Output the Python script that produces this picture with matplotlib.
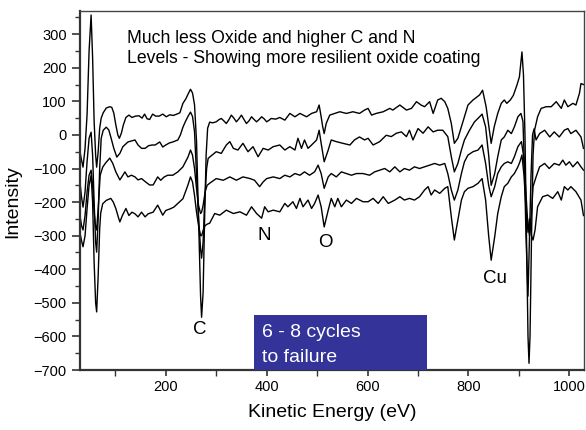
import matplotlib
matplotlib.use("Agg")
import matplotlib.pyplot as plt
from matplotlib.ticker import MultipleLocator

plt.rcParams['font.family'] = ['Liberation Sans', 'DejaVu Sans']

# ---- data (kinetic energy in eV, intensity) ----
e1 = [30, 33, 36, 40, 44, 48, 52, 55, 58, 61, 63, 66, 69, 72, 76, 82, 89, 93, 97, 101, 105, 108, 112, 116, 121,
      127, 133, 140, 147, 153, 158, 163, 168, 174, 180, 187, 194, 201, 208, 215, 222, 228, 234, 240, 245, 249,
      253, 257, 261, 265, 269, 271, 274, 277, 280, 283, 287, 293, 300, 305, 310, 315, 320, 325, 330, 335, 340,
      345, 350, 355, 360, 365, 370, 375, 380, 385, 390, 395, 400, 405, 409, 418, 426, 436, 446, 456, 466, 479,
      489, 499, 504, 508, 511, 514, 518, 525, 535, 545, 558, 571, 584, 594, 601, 608, 617, 631, 644, 650, 664,
      677, 687, 697, 706, 713, 723, 730, 739, 746, 753, 759, 766, 772, 779, 786, 792, 799, 809, 822, 828, 835,
      840, 845, 851, 858, 865, 871, 876, 883, 889, 896, 901, 906, 909, 912, 915, 918, 920, 922, 925, 928, 931,
      937, 944, 954, 964, 974, 984, 990, 997, 1007, 1013, 1020, 1023, 1028]
i1 = [-50, -75, -96, -40, 60, 250, 357, 230, 40, -60, -96, -50, 20, 50, 66, 80, 84, 82, 65, 30, 0, -10, 5, 30, 52,
      59, 52, 56, 57, 50, 62, 48, 46, 62, 56, 56, 62, 54, 60, 58, 62, 66, 94, 108, 124, 136,
      125, 90, -20, -250, -480, -543, -470, -250, -60, 20, 38, 36, 39, 45, 49, 42, 34, 45, 59, 50, 39,
      48, 59, 46, 34, 42, 54, 46, 39, 46, 54, 48, 39, 44, 49, 47, 52, 44, 64, 54, 64, 54,
      64, 69, 89, 54, 25, 4, 34, 59, 64, 69, 64, 69, 64, 74, 79, 59, 64, 69, 79, 74, 89,
      74, 79, 99, 89, 84, 99, 64, 104, 109, 99, 79, 34, -25, -10, 24, 54, 89, 104, 119, 133, 84,
      30, -25, 24, 64, 94, 104, 94, 104, 118, 148, 173, 247, 180, 0, -300, -600, -680, -600, -300, -60, 14,
      54, 79, 84, 84, 99, 79, 104, 84, 94, 89, 124, 153, 150]

e2 = [30, 33, 36, 40, 44, 48, 52, 55, 58, 61, 63, 66, 69, 72, 76, 82, 87, 91, 97, 103, 109, 115, 125, 132, 139,
      145, 152, 159, 166, 173, 179, 188, 194, 200, 207, 214, 224, 229, 234, 239, 244, 249, 253, 257, 261, 265,
      269, 271, 274, 277, 281, 284, 287, 300, 310, 320, 327, 334, 343, 353, 363, 373, 383, 393, 403, 413, 426,
      436, 446, 456, 462, 469, 475, 482, 489, 499, 504, 508, 514, 522, 528, 538, 551, 565, 574, 584, 594, 601,
      611, 624, 637, 647, 657, 667, 677, 683, 690, 700, 710, 720, 730, 739, 749, 759, 766, 772, 779, 786, 792,
      802, 812, 822, 827, 834, 840, 845, 852, 858, 865, 871, 878, 885, 891, 898, 904, 908, 911, 914, 918, 921,
      924, 927, 930, 934, 941, 951, 961, 970, 980, 990, 997, 1003, 1013, 1023, 1028]
i2 = [-141, -185, -215, -170, -80, -10, 8, -60, -200, -320, -349, -250, -100, -10, 14, 23, 15, -6, -40, -66, -55,
      -35, -21, -18, -15, -30, -40, -40, -32, -30, -30, -21, -36, -30, -24, -21, -15, 0, 23, 40, 55, 68, 55,
      10, -120, -250, -340, -367, -320, -200, -100, -70, -66, -50, -55, -30, -20, -40, -45, -25, -50, -35, -65,
      -40, -45, -35, -30, -45, -35, -45, -10, -40, -15, -40, -30, -15, 14, -25, -80, -45, -15, -20, -25, -30,
      -15, -6, -15, -10, -30, -20, -1, -5, 5, 9, -5, 14, -15, 19, 5, 24, 9, 14, 14, -5, -65, -110, -85, -45,
      -15, 14, 39, 54, 62, 24, -60, -150, -115, -65, -15, -6, 14, 4, 24, 54, 64, 40, -100, -300, -480, -300,
      -120, 0, 18, -15, 4, 14, -6, 9, -6, 14, 19, 4, 14, -6, -40]

e3 = [30, 33, 36, 40, 44, 48, 52, 55, 58, 61, 63, 66, 70, 75, 80, 89, 95, 101, 109, 115, 119, 125, 132, 139, 145,
      152, 160, 168, 175, 184, 190, 197, 204, 214, 224, 234, 244, 249, 253, 257, 261, 265, 269, 271, 274, 278,
      282, 287, 300, 314, 327, 340, 353, 367, 376, 386, 393, 400, 413, 426, 436, 446, 456, 466, 475, 485, 495,
      502, 508, 514, 522, 528, 538, 548, 558, 568, 578, 591, 604, 614, 624, 634, 644, 654, 664, 673, 683, 693,
      703, 713, 723, 733, 743, 753, 759, 766, 772, 779, 786, 792, 799, 809, 819, 827, 834, 840, 845, 852, 858,
      865, 871, 878, 885, 891, 898, 905, 909, 913, 917, 921, 925, 928, 934, 941, 951, 960, 970, 980, 987, 993,
      1000, 1007, 1016, 1023, 1028]
i3 = [-240, -270, -283, -240, -170, -120, -105, -150, -230, -275, -283, -220, -120, -96, -85, -69, -85, -110, -134,
      -120, -110, -125, -120, -125, -134, -130, -140, -149, -149, -125, -135, -125, -120, -120, -110, -95, -66,
      -45, -60, -100, -160, -210, -234, -230, -210, -170, -150, -144, -130, -135, -125, -135, -125, -130, -135,
      -154, -140, -130, -125, -130, -120, -125, -115, -120, -110, -120, -110, -90, -115, -159, -125, -115, -125,
      -110, -115, -120, -115, -115, -120, -110, -105, -100, -110, -95, -110, -100, -105, -95, -100, -95, -90,
      -85, -90, -85, -115, -164, -194, -164, -115, -80, -60, -50, -45, -30, -85, -150, -184, -154, -115, -95,
      -85, -80, -85, -65, -35, -20, -60, -150, -250, -300, -230, -154, -125, -95, -85, -100, -85, -90, -75,
      -90, -80, -95, -80, -95, -105]

e4 = [30, 33, 36, 40, 44, 48, 52, 55, 58, 61, 63, 66, 69, 71, 75, 82, 91, 96, 101, 106, 109, 114, 121, 127, 133,
      139, 145, 152, 159, 165, 175, 184, 194, 200, 209, 216, 224, 234, 244, 249, 253, 257, 261, 265, 269, 271,
      274, 278, 283, 287, 297, 307, 320, 334, 347, 360, 370, 380, 390, 396, 403, 413, 426, 436, 442, 452, 459,
      466, 472, 482, 489, 495, 502, 508, 514, 522, 528, 535, 541, 548, 558, 568, 578, 591, 601, 611, 621, 631,
      641, 654, 664, 673, 683, 693, 703, 713, 720, 726, 733, 743, 753, 759, 766, 772, 779, 786, 792, 799, 809,
      819, 827, 834, 840, 845, 852, 858, 865, 871, 878, 885, 891, 898, 902, 906, 910, 914, 918, 921, 925, 928,
      932, 937, 947, 957, 967, 977, 984, 990, 997, 1003, 1013, 1023, 1028]
i4 = [-292, -315, -333, -300, -220, -150, -120, -200, -380, -500, -527, -420, -280, -233, -205, -195, -189, -200,
      -219, -245, -259, -240, -219, -240, -230, -235, -244, -230, -244, -235, -230, -209, -239, -225, -220, -215,
      -204, -190, -149, -125, -140, -180, -230, -270, -300, -300, -285, -270, -265, -263, -234, -239, -224, -234,
      -229, -239, -214, -234, -248, -214, -229, -224, -229, -204, -214, -199, -219, -189, -214, -194, -219, -204,
      -179, -214, -274, -224, -189, -214, -189, -214, -194, -204, -189, -199, -199, -189, -204, -184, -204, -194,
      -184, -194, -189, -194, -184, -164, -154, -179, -164, -174, -159, -154, -244, -313, -254, -194, -169, -159,
      -154, -144, -130, -194, -300, -373, -303, -234, -184, -154, -144, -125, -115, -95, -80, -60, -120, -220,
      -290, -250, -300, -313, -283, -214, -184, -179, -189, -169, -194, -154, -164, -154, -169, -194, -240]

peak_labels = ["C", "N", "O", "Cu"]
peak_pos = [(268, -578), (396, -300), (516, -321), (852, -427)]
note_lines = ["Much less Oxide and higher C and N",
              "Levels - Showing more resilient oxide coating"]
box_lines = ["6 - 8 cycles", "to failure"]

fig = plt.figure(figsize=(5.86, 4.30), dpi=100)
ax = fig.add_axes([80 / 586, 1 - 370 / 430, 504 / 586, 359 / 430])

for e, i in [(e1, i1), (e2, i2), (e3, i3), (e4, i4)]:
    ax.plot(e, i, color='black', lw=1.0, solid_joinstyle='round')

ax.set_xlim(30, 1029)
ax.set_ylim(-700, 369)
ax.xaxis.set_major_locator(MultipleLocator(200))
ax.xaxis.set_minor_locator(MultipleLocator(100))
ax.yaxis.set_major_locator(MultipleLocator(100))
ax.yaxis.set_minor_locator(MultipleLocator(50))
ax.tick_params(axis='both', which='both', direction='out', colors='#333333', labelcolor='black', labelsize=10.5)
ax.tick_params(axis='y', which='major', length=6, width=1.2)
ax.tick_params(axis='y', which='minor', length=3.5, width=1.0)
ax.tick_params(axis='x', which='major', length=4, width=1.2)
ax.tick_params(axis='x', which='minor', length=4, width=1.0)
for s in ['left', 'bottom']:
    ax.spines[s].set_linewidth(1.6)
    ax.spines[s].set_color('#333333')
for s in ['top', 'right']:
    ax.spines[s].set_linewidth(1.0)
    ax.spines[s].set_color('#444444')

ax.set_xlabel("Kinetic Energy (eV)", fontsize=14)
ax.set_ylabel("Intensity", fontsize=14)
ax.xaxis.set_label_coords(0.5, -0.095)
ax.yaxis.set_label_coords(-0.117, 0.47)

ax.text(123, 274, note_lines[0], fontsize=12.7, ha='left', va='baseline')
ax.text(123, 215, note_lines[1], fontsize=12.7, ha='left', va='baseline')

for lab, (x, y) in zip(peak_labels, peak_pos):
    ax.text(x, y, lab, fontsize=13.5, ha='center', va='center')

ax.fill_between([374.5, 717], -700, -536, color='#333399', zorder=3, lw=0)
ax.text(390, -603, box_lines[0], fontsize=14, color='white', ha='left', va='baseline', zorder=4)
ax.text(390, -675, box_lines[1], fontsize=14, color='white', ha='left', va='baseline', zorder=4)

fig.savefig("out.png", dpi=100)
